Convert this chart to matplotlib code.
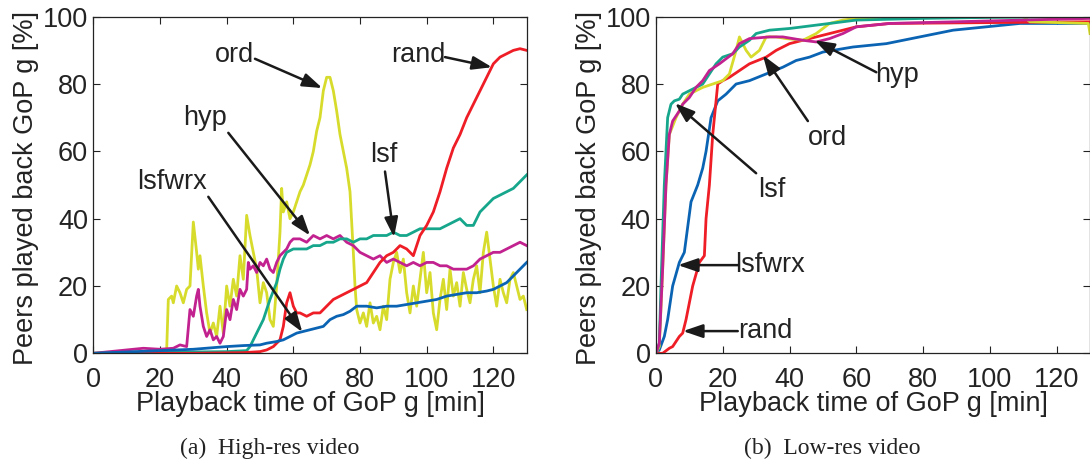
import matplotlib.pyplot as plt
import numpy as np

# ---- (a) High-res video ----
ord_hi_x = [0, 10, 20, 22, 22.5, 23.5, 24, 25, 26, 27, 28, 29, 30, 31, 31.5, 32, 33, 34, 35, 36, 37, 38, 39, 40, 41, 42, 43, 44, 45, 46, 47, 48, 49, 50, 51, 52, 53, 54, 55, 56, 56.5, 57, 58, 59, 60, 61, 62, 63, 64, 65, 66, 67, 68, 69, 70, 71, 72, 73, 74, 75, 76, 77, 78, 78.5, 79, 80, 81, 82, 83, 84, 85, 86, 87, 88, 89, 90, 91, 92, 93, 94, 95, 96, 97, 98, 99, 100, 101, 102, 103, 104, 105, 106, 107, 108, 109, 110, 111, 112, 113, 114, 115, 116, 117, 118, 119, 120, 121, 122, 123, 124, 125, 126, 127, 128, 129, 130]
ord_hi_y = [0, 0.3, 0.5, 0.8, 16, 17, 15, 20, 18, 15, 19, 20, 39, 30, 25, 29, 20, 12, 6, 9, 5, 14, 6, 20, 14, 22, 17, 29, 22, 41, 35, 30, 25, 15, 21, 18, 10, 8, 20, 36, 49, 42, 45, 40, 42, 45, 48, 50, 53, 56, 60, 66, 70, 78, 82, 82, 78, 72, 65, 60, 55, 48, 30, 20, 13, 9, 12, 8, 15, 9, 11, 7, 14, 10, 22, 27, 30, 24, 28, 18, 12, 20, 14, 22, 30, 18, 24, 12, 7, 16, 22, 13, 25, 17, 21, 14, 24, 19, 15, 22, 26, 18, 30, 36, 28, 20, 14, 22, 18, 15, 22, 24, 20, 16, 17, 13]

hyp_hi_x = [0, 5, 10, 15, 20, 24, 26, 28, 29, 30, 31, 31.5, 32, 33, 34, 35, 36, 37, 38, 39, 40, 41, 42, 43, 44, 45, 46, 46.5, 47, 48, 49, 50, 51, 52, 53, 54, 55, 56, 57, 58, 59, 60, 62, 64, 66, 68, 70, 72, 74, 76, 78, 80, 82, 84, 86, 88, 90, 92, 94, 96, 98, 100, 102, 104, 106, 108, 110, 112, 114, 116, 118, 120, 122, 124, 126, 128, 130]
hyp_hi_y = [0, 0.5, 1, 1.5, 1.2, 1.5, 2.5, 2, 13, 11, 17, 19, 14, 8, 5, 7, 4, 5, 3, 5, 13, 10, 16, 13, 19, 17, 19, 27, 25, 26, 24, 27, 26, 28, 25, 24, 27, 29, 30, 31, 33, 34, 34, 33, 35, 34, 35, 34, 35, 33, 32, 30, 29, 28, 29, 27, 28, 27, 26, 27, 26, 27, 27, 26, 26, 25, 25, 25, 26, 28, 29, 30, 30, 31, 32, 33, 32]

lsf_hi_x = [0, 20, 40, 46, 47, 49, 51, 53, 55, 56, 57, 58, 60, 62, 64, 66, 68, 70, 72, 74, 76, 78, 80, 82, 84, 86, 88, 90, 92, 94, 96, 98, 100, 102, 104, 106, 108, 110, 112, 114, 116, 118, 120, 122, 124, 126, 128, 130]
lsf_hi_y = [0, 0.3, 0.5, 0.8, 2, 6, 10, 16, 21, 25, 28, 30, 31, 31, 31, 32, 32, 33, 33, 34, 34, 33, 34, 34, 35, 35, 35, 36, 35, 35, 36, 37, 37, 37, 37, 38, 39, 40, 38, 38, 42, 44, 46, 47, 48, 49, 51, 53]

rand_hi_x = [0, 30, 45, 50, 52, 54, 56, 57, 58, 59, 60, 61, 62, 64, 66, 68, 70, 72, 74, 76, 78, 80, 82, 84, 86, 88, 90, 92, 94, 96, 98, 100, 102, 104, 106, 108, 110, 112, 114, 116, 118, 120, 122, 124, 126, 128, 130]
rand_hi_y = [0, 0, 0.2, 0.5, 1, 2, 4, 8, 15, 18, 14, 12, 12, 11, 12, 12, 14, 16, 17, 18, 19, 20, 21, 24, 27, 29, 30, 32, 31, 29, 35, 38, 42, 48, 55, 61, 65, 70, 74, 78, 82, 86, 88, 89, 90, 90.5, 90]

lsfwrx_hi_x = [0, 10, 20, 30, 40, 45, 50, 52, 55, 57, 59, 61, 63, 65, 67, 69, 71, 73, 75, 77, 79, 82, 85, 88, 91, 94, 97, 100, 103, 106, 109, 112, 115, 118, 120, 122, 124, 126, 128, 130]
lsfwrx_hi_y = [0, 0.4, 0.8, 1.2, 2, 2.3, 2.5, 3, 3.5, 4, 5, 6, 6.5, 7, 7.5, 8, 10, 11, 11.5, 12.5, 14, 14, 13.5, 14, 14, 14.5, 15, 15.5, 16, 17, 17.5, 18, 18, 18.5, 19, 20, 21, 23, 25, 27]

# ---- (b) Low-res video ----
lsf_lo_x = [0, 1, 1.5, 2.5, 3.5, 4.5, 5.5, 7, 8, 10, 12, 14, 16, 18, 20, 23, 25, 28, 30, 34, 40, 44, 52, 60, 80, 100, 130]
lsf_lo_y = [0, 3, 20, 50, 70, 74, 75, 75.5, 77, 78, 79, 80, 83, 86, 88, 89, 91, 93, 95, 96, 96.5, 97, 98, 99, 99.5, 99.8, 100]

hyp_lo_x = [0, 1, 2, 3, 4, 5, 7, 8, 10, 12, 14, 16, 19, 23, 25, 28, 34, 38, 44, 48, 52, 56, 60, 70, 90, 110, 130]
hyp_lo_y = [0, 3, 25, 50, 65, 69, 72, 74, 76, 79, 81, 84, 86, 89, 92, 93.5, 94, 94, 93, 92.5, 93.5, 95, 97, 98, 98.5, 99, 99.5]

ord_lo_x = [0, 1, 2, 3, 4, 6, 8, 10, 14, 20, 22, 24, 25, 27, 28.5, 31, 33, 36, 39, 44, 48, 52, 56, 60, 70, 110, 112, 129.5, 130]
ord_lo_y = [0, 2, 25, 50, 65, 70, 74, 77, 79, 81, 83, 90, 94, 90, 88, 90, 94, 94, 93.5, 93, 95, 98, 99, 99.5, 100, 100, 98.5, 98, 95]

rand_lo_x = [0, 2, 4, 5, 7, 8, 9, 11, 13, 14.5, 15, 16, 17, 18.5, 20, 22, 25, 28, 33, 36, 40, 44, 48, 52, 56, 60, 70, 130]
rand_lo_y = [0, 0, 1.5, 2, 5, 6, 10, 20, 27, 29, 40, 50, 65, 80, 81, 82, 84, 86, 88, 90, 92, 93, 94, 95, 96, 97, 98, 98.5]

lsfwrx_lo_x = [0, 1, 2.5, 3.5, 5, 7, 8.5, 10.5, 12.5, 14, 15, 16.5, 18.5, 21, 24, 28, 33, 38, 42, 46, 50, 59, 69, 79, 89, 99, 109, 130]
lsfwrx_lo_y = [0, 1, 5, 10, 20, 27, 30, 45, 50, 55, 60, 70, 75, 77, 80, 81, 83, 85, 87, 88, 89.5, 91, 92, 94, 96, 97, 98, 98]

c_ord = '#d7dc2c'
c_hyp = '#c2228f'
c_lsf = '#16a68c'
c_rand = '#ee1d26'
c_lsfwrx = '#0b64b3'

plt.rcParams['font.family'] = ['Liberation Sans', 'DejaVu Sans']
fs = 19.5
lw = 2.0
ink = '#232323'

fig = plt.figure(figsize=(10.9, 4.63), dpi=100)
ax1 = fig.add_axes([0.0856, 0.2369, 0.3976, 0.727])
ax2 = fig.add_axes([0.6018, 0.2369, 0.3982, 0.727])

ax1.plot(ord_hi_x, ord_hi_y, color=c_ord, lw=lw)
ax1.plot(hyp_hi_x, hyp_hi_y, color=c_hyp, lw=lw)
ax1.plot(lsf_hi_x, lsf_hi_y, color=c_lsf, lw=lw)
ax1.plot(rand_hi_x, rand_hi_y, color=c_rand, lw=lw)
ax1.plot(lsfwrx_hi_x, lsfwrx_hi_y, color=c_lsfwrx, lw=lw)

ax2.plot(lsfwrx_lo_x, lsfwrx_lo_y, color=c_lsfwrx, lw=lw)
ax2.plot(rand_lo_x, rand_lo_y, color=c_rand, lw=lw)
ax2.plot(ord_lo_x, ord_lo_y, color=c_ord, lw=lw)
ax2.plot(lsf_lo_x, lsf_lo_y, color=c_lsf, lw=lw)
ax2.plot(hyp_lo_x, hyp_lo_y, color=c_hyp, lw=lw)

for ax in (ax1, ax2):
    ax.set_xlim(0, 130)
    ax.set_ylim(0, 100)
    ax.set_xticks([0, 20, 40, 60, 80, 100, 120])
    ax.set_yticks([0, 20, 40, 60, 80, 100])
    ax.tick_params(direction='in', top=True, right=True, length=5, width=0.8,
                   labelsize=fs, colors=ink)
    ax.tick_params(axis='x', pad=9.5)
    ax.tick_params(axis='y', pad=3.8)
    for s in ax.spines.values():
        s.set_linewidth(0.9)
        s.set_color(ink)
    ax.set_xlabel('Playback time of GoP g [min]', fontsize=fs, color=ink)
    ax.set_ylabel('Peers played back GoP g [%]', fontsize=fs, color=ink)
    ax.xaxis.set_label_coords(0.5, -0.1105)
    ax.yaxis.set_label_coords(-0.1245, 0.49)


def note(ax, label, txt_xy, tail, tip):
    ax.text(txt_xy[0], txt_xy[1], label, fontsize=fs, ha='center', va='center', color=ink)
    ax.annotate('', xy=tip, xytext=tail,
                arrowprops=dict(arrowstyle='-|>,head_length=0.7,head_width=0.24',
                                color='#1a1a1a', lw=1.8, mutation_scale=17,
                                shrinkA=0, shrinkB=0))


note(ax1, 'ord', (42.5, 88.6), (48.5, 87.5), (68.7, 78.8))
note(ax1, 'rand', (97.5, 88.6), (105.5, 88), (119.6, 85))
note(ax1, 'hyp', (33.5, 70), (40.5, 65.5), (65, 35))
note(ax1, 'lsfwrx', (23.6, 51), (34.5, 46.5), (62.7, 6.3))
note(ax1, 'lsf', (87, 59), (87.5, 54), (90.2, 34.5))

note(ax2, 'hyp', (72.3, 82.7), (66, 83.5), (47.5, 93))
note(ax2, 'ord', (51.3, 64), (45.5, 69), (32, 88.6))
note(ax2, 'lsf', (34.6, 48.5), (30, 53.5), (5.7, 74.3))
note(ax2, 'lsfwrx', (34.2, 26.2), (24.5, 26.2), (6.6, 26.2))
note(ax2, 'rand', (32.7, 6.6), (24.5, 6.6), (8.1, 6.6))

fig.text(0.2477, 0.032, '(a)  High-res video', fontsize=17, family='Liberation Serif',
         ha='center', va='center', color=ink)
fig.text(0.7633, 0.032, '(b)  Low-res video', fontsize=17, family='Liberation Serif',
         ha='center', va='center', color=ink)

fig.savefig('out.png', dpi=100)
